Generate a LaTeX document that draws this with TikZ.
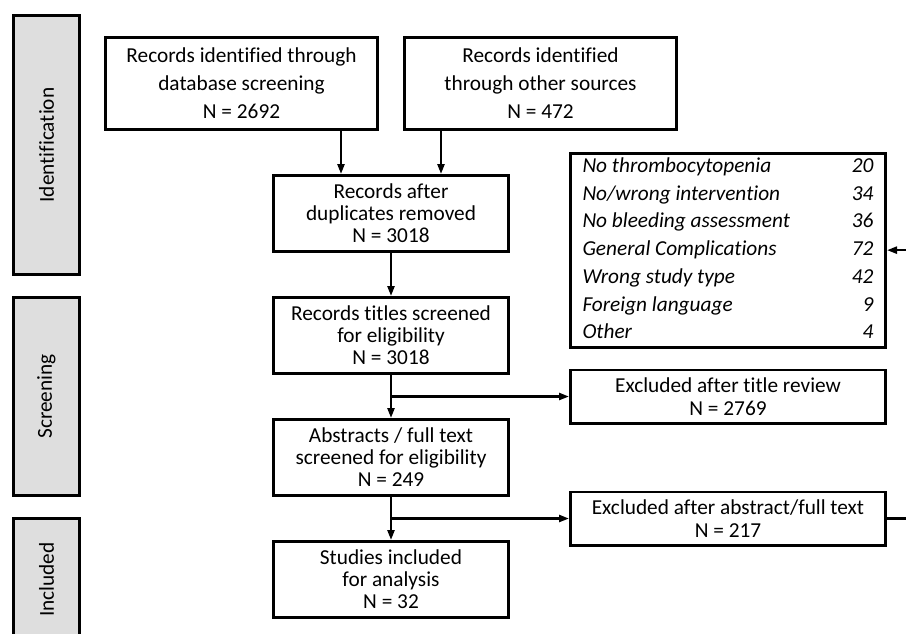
\documentclass[tikz,border=0pt]{standalone}
\usepackage{fontspec}
\setmainfont{Carlito}[Ligatures=CommonOff]
\usetikzlibrary{arrows.meta,positioning,calc}
\definecolor{ink}{HTML}{000000}
\definecolor{stagegray}{HTML}{DEDEDE}

\begin{document}
\begin{tikzpicture}[x=1pt,y=-1pt,
    >=Triangle,
    box/.style={draw=ink,line width=2.8pt,minimum width=235.2pt,minimum height=76.2pt,align=center,inner sep=0pt,text=ink,font=\fontsize{21.3}{22}\selectfont},
    srcbox/.style={box,minimum width=272.2pt,minimum height=92.2pt,font=\fontsize{21.3}{28}\selectfont},
    exbox/.style={box,minimum width=315.2pt,minimum height=53.2pt,font=\fontsize{21.3}{23}\selectfont},
    stage/.style={draw=ink,fill=stagegray,line width=2.8pt,minimum height=66.2pt,inner sep=0pt,rotate=90,text=ink,font=\fontsize{21.3}{24}\selectfont},
    arr/.style={-{Triangle[length=10pt,width=7pt]},line width=2.3pt,draw=ink}]
    \useasboundingbox (0,0) rectangle (906,633);
    \clip (0,0) rectangle (906,633);
    % stages
    \node[stage,minimum width=259.2pt] (sid) at (46.5,145) {Identification};
    \node[stage,minimum width=198.2pt] (sscr) at (46.5,396.5) {Screening};
    \node[stage,minimum width=122.2pt] (sinc) at (46.5,579.5) {Included};
    % main flow
    \node[srcbox] (db) at (241.5,83.5)
      {Records identified through\\database screening\\N = 2692};
    \node[srcbox,right=24pt of db] (oth)
      {Records identified\\through other sources\\N = 472};
    \coordinate (top) at ($(db.south)!.5!(oth.south)$);
    \node[box,below=43pt of top] (dup)
      {Records after\\duplicates removed\\N = 3018};
    \node[box,below=43pt of dup] (titl)
      {Records titles screened\\for eligibility\\N = 3018};
    \node[box,below=43pt of titl] (abs)
      {Abstracts / full text\\screened for eligibility\\N = 249};
    \node[box,below=43pt of abs] (inc)
      {Studies included\\for analysis\\N = 32};
    % exclusions
    \coordinate (b1) at ($(titl.south)!.5!(abs.north)$);
    \coordinate (b2) at ($(abs.south)!.5!(inc.north)$);
    \node[exbox,right=178pt of b1] (exT) {Excluded after title review\\N = 2769};
    \node[exbox,right=178pt of b2] (exA) {Excluded after abstract/full text\\N = 217};
    \node[box,minimum width=315.2pt,minimum height=193.2pt,above=20pt of exT,
      font=\fontsize{21.3}{27.7}\selectfont\itshape] (rsn)
      {\begin{tabular*}{291pt}{@{}l@{\extracolsep{\fill}}r@{}}
        No thrombocytopenia & 20\\
        No/wrong intervention & 34\\
        No bleeding assessment & 36\\
        General Complications & 72\\
        Wrong study type & 42\\
        Foreign language & 9\\
        Other & 4
      \end{tabular*}};
    % connectors
    \draw[arr] ([xshift=-50pt]dup.north |- db.south) -- ([xshift=-50pt]dup.north);
    \draw[arr] ([xshift=50pt]dup.north |- oth.south) -- ([xshift=50pt]dup.north);
    \draw[arr] (dup) -- (titl);
    \draw[arr] (titl) -- (abs);
    \draw[arr] (abs) -- (inc);
    \draw[arr] (b1) -- (exT);
    \draw[arr] (b2) -- (exA);
    \draw[arr] (exA.east) -- ++(40,0) |- (rsn.east);
  \end{tikzpicture}
\end{document}
